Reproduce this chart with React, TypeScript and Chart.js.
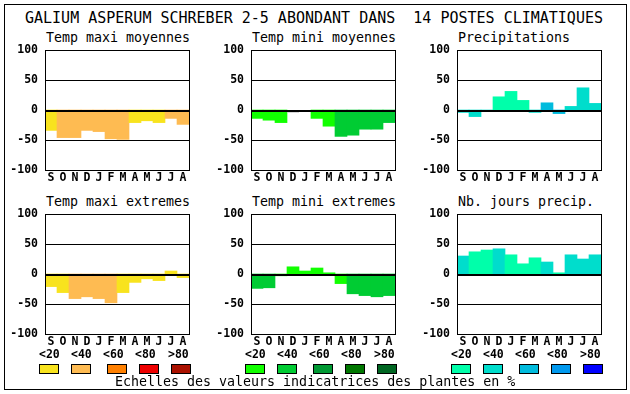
import React, { useEffect, useRef } from "react";
import { Chart, registerables } from "chart.js";

Chart.register(...registerables);

// ---------- data ----------
const months = ["S", "O", "N", "D", "J", "F", "M", "A", "M", "J", "J", "A"];
const yTicks = [100, 50, 0, -50, -100];
const scaleLabels = ["<20", "<40", "<60", "<80", ">80"];

const warmColors = ["#F8E31E", "#FEBB52", "#FF8000", "#EE0000", "#AA1100"];
const greenColors = ["#11FF00", "#00CC33", "#009933", "#007700", "#006622"];
const blueColors = ["#00FFAA", "#00DDCC", "#00BBDD", "#0099EE", "#0000FF"];
const WHITE = -1;

const tmaxMoyValues = [-34, -46, -46, -34, -36, -48, -49, -21, -18, -21, -14, -24];
const tmaxMoyClasses = [0, 1, 1, 1, 1, 1, 1, 0, 0, 0, 1, 1];

const tminMoyValues = [-14, -17, -21, -4, -2, -14, -27, -44, -42, -32, -32, -21];
const tminMoyClasses = [0, 0, 0, WHITE, WHITE, 0, 0, 1, 1, 1, 1, 1];

const precipValues = [-4, -11, -2, 22, 31, 16, -4, 12, -6, 6, 37, 11];
const precipClasses = [1, 1, 1, 0, 0, 0, 1, 2, 2, 1, 1, 1];

const tmaxExtValues = [-21, -31, -41, -38, -41, -48, -31, -14, -8, -11, 5, -6];
const tmaxExtClasses = [0, 0, 1, 1, 1, 1, 0, 0, 0, 0, 0, 0];

const tminExtValues = [-24, -23, -3, 12, 5, 10, 2, -16, -33, -36, -38, -36];
const tminExtClasses = [1, 1, 0, 0, 0, 0, 0, 0, 1, 1, 1, 1];

const nbJoursValues = [30, 37, 40, 42, 32, 17, 27, 20, 2, 32, 25, 32];
const nbJoursClasses = [1, 0, 0, 1, 0, 0, 0, 1, 0, 1, 1, 1];

const mainTitle = "GALIUM ASPERUM SCHREBER 2-5 ABONDANT DANS  14 POSTES CLIMATIQUES";
const footer = "Echelles des valeurs indicatrices des plantes en %";

// ---------- layout constants ----------
const MONO = "'DejaVu Sans Mono', monospace";
const AXIS_W = 45;
const PLOT_W = 144;
const PLOT_H = 120;
const PAD_TOP = 10;
const PAD_RIGHT = 6;
const XAXIS_H = 20;

const framePlugin = {
  id: "frameLines",
  afterDatasetsDraw(chart: any) {
    const { ctx, chartArea: a, scales } = chart;
    const y = scales.y;
    ctx.save();
    ctx.strokeStyle = "#000";
    for (const v of yTicks) {
      const py = Math.round(y.getPixelForValue(v));
      const zero = v === 0;
      ctx.lineWidth = zero ? 2 : 1;
      const off = zero ? 1 : 0.5;
      ctx.beginPath();
      ctx.moveTo(a.left, py + off);
      ctx.lineTo(a.right + 1, py + off);
      ctx.stroke();
    }
    ctx.lineWidth = 1;
    ctx.beginPath();
    ctx.moveTo(a.left + 0.5, a.top);
    ctx.lineTo(a.left + 0.5, a.bottom + 1);
    ctx.moveTo(a.right + 0.5, a.top);
    ctx.lineTo(a.right + 0.5, a.bottom + 1);
    ctx.stroke();
    ctx.restore();
  },
};

function zeroPad(s: any) {
  s.paddingTop = 0;
  s.paddingBottom = 0;
  s.paddingLeft = 0;
  s.paddingRight = 0;
}

type PanelProps = {
  plotLeft: number;
  plotTop: number;
  title: string;
  values: number[];
  classes: number[];
  palette: string[];
};

function Panel({ plotLeft, plotTop, title, values, classes, palette }: PanelProps) {
  const ref = useRef<HTMLCanvasElement>(null);
  const w = AXIS_W + PLOT_W + PAD_RIGHT;
  const h = PAD_TOP + PLOT_H + XAXIS_H;

  useEffect(() => {
    if (!ref.current) return;
    const tickFont = { family: MONO, size: 11.5, weight: "bold" as const };
    const chart = new Chart(ref.current, {
      type: "bar",
      data: {
        labels: months,
        datasets: [
          {
            data: values,
            backgroundColor: classes.map((c) => (c === WHITE ? "#FFFFFF" : palette[c])),
            borderColor: classes.map((c) => (c === WHITE ? "#BBBBBB" : "rgba(0,0,0,0)")),
            borderWidth: classes.map((c) =>
              c === WHITE ? { top: 0, left: 0, right: 0, bottom: 1 } : 0
            ) as any,
            borderSkipped: false,
            barPercentage: 1,
            categoryPercentage: 1,
          },
        ],
      },
      options: {
        responsive: false,
        animation: false,
        devicePixelRatio: 1,
        layout: { padding: { top: PAD_TOP, right: PAD_RIGHT, left: 0, bottom: 0 } },
        plugins: {
          legend: { display: false },
          tooltip: { enabled: false },
          title: { display: false },
        },
        scales: {
          x: {
            type: "category",
            grid: { display: false, drawTicks: false },
            border: { display: false },
            ticks: {
              font: tickFont,
              color: "#000",
              padding: 1,
              maxRotation: 0,
              autoSkip: false,
            },
            afterFit: (s: any) => {
              s.height = XAXIS_H;
              zeroPad(s);
            },
          },
          y: {
            min: -100,
            max: 100,
            grid: { display: false, drawTicks: false },
            border: { display: false },
            ticks: {
              stepSize: 50,
              font: tickFont,
              color: "#000",
              padding: 7,
              callback: (v: any) => String(v),
            },
            afterFit: (s: any) => {
              s.width = AXIS_W;
              zeroPad(s);
            },
          },
        },
      },
      plugins: [framePlugin],
    });
    return () => chart.destroy();
  }, []);

  return (
    <>
      <div
        style={{
          position: "absolute",
          left: plotLeft + 1,
          top: plotTop - 19,
          fontFamily: MONO,
          fontSize: "13.3px",
          lineHeight: 1,
          whiteSpace: "pre",
          color: "#000",
        }}
      >
        {title}
      </div>
      <canvas
        ref={ref}
        width={w}
        height={h}
        style={{
          position: "absolute",
          left: plotLeft - AXIS_W,
          top: plotTop - PAD_TOP,
          width: w,
          height: h,
        }}
      />
    </>
  );
}

function ScaleLegend({ plotLeft, palette }: { plotLeft: number; palette: string[] }) {
  const labelOffsets = [-6, 26, 58, 90, 123];
  const swatchOffsets = [-6, 26, 62, 94, 126];
  return (
    <>
      {scaleLabels.map((lab, i) => (
        <div
          key={"l" + i}
          style={{
            position: "absolute",
            left: plotLeft + labelOffsets[i],
            top: 349,
            fontFamily: MONO,
            fontWeight: "bold",
            fontSize: "11.5px",
            lineHeight: 1,
            whiteSpace: "pre",
            color: "#000",
          }}
        >
          {lab}
        </div>
      ))}
      {palette.map((c, i) => (
        <div
          key={"s" + i}
          style={{
            position: "absolute",
            left: plotLeft + swatchOffsets[i],
            top: 364,
            width: 20,
            height: 10,
            boxSizing: "border-box",
            border: "1px solid #000",
            background: c,
          }}
        />
      ))}
    </>
  );
}

export default function App() {
  const cols = [45, 251, 457];
  const rows = [50, 214];
  return (
    <div
      style={{
        position: "absolute",
        left: 0,
        top: 0,
        width: 630,
        height: 394,
        background: "#fff",
        overflow: "hidden",
      }}
    >
      <div
        style={{
          position: "absolute",
          left: 4,
          top: 4,
          width: 623,
          height: 386,
          boxSizing: "border-box",
          border: "1px solid #000",
        }}
      />
      <div
        style={{
          position: "absolute",
          left: 25,
          top: 11,
          fontFamily: MONO,
          fontSize: "15px",
          lineHeight: 1,
          whiteSpace: "pre",
          color: "#000",
        }}
      >
        {mainTitle}
      </div>

      <Panel plotLeft={cols[0]} plotTop={rows[0]} title="Temp maxi moyennes" values={tmaxMoyValues} classes={tmaxMoyClasses} palette={warmColors} />
      <Panel plotLeft={cols[1]} plotTop={rows[0]} title="Temp mini moyennes" values={tminMoyValues} classes={tminMoyClasses} palette={greenColors} />
      <Panel plotLeft={cols[2]} plotTop={rows[0]} title="Precipitations" values={precipValues} classes={precipClasses} palette={blueColors} />
      <Panel plotLeft={cols[0]} plotTop={rows[1]} title="Temp maxi extremes" values={tmaxExtValues} classes={tmaxExtClasses} palette={warmColors} />
      <Panel plotLeft={cols[1]} plotTop={rows[1]} title="Temp mini extremes" values={tminExtValues} classes={tminExtClasses} palette={greenColors} />
      <Panel plotLeft={cols[2]} plotTop={rows[1]} title="Nb. jours precip." values={nbJoursValues} classes={nbJoursClasses} palette={blueColors} />

      <ScaleLegend plotLeft={cols[0]} palette={warmColors} />
      <ScaleLegend plotLeft={cols[1]} palette={greenColors} />
      <ScaleLegend plotLeft={cols[2]} palette={blueColors} />

      <div
        style={{
          position: "absolute",
          left: 115,
          top: 375,
          fontFamily: MONO,
          fontSize: "13.3px",
          lineHeight: 1,
          whiteSpace: "pre",
          color: "#000",
        }}
      >
        {footer}
      </div>
    </div>
  );
}
